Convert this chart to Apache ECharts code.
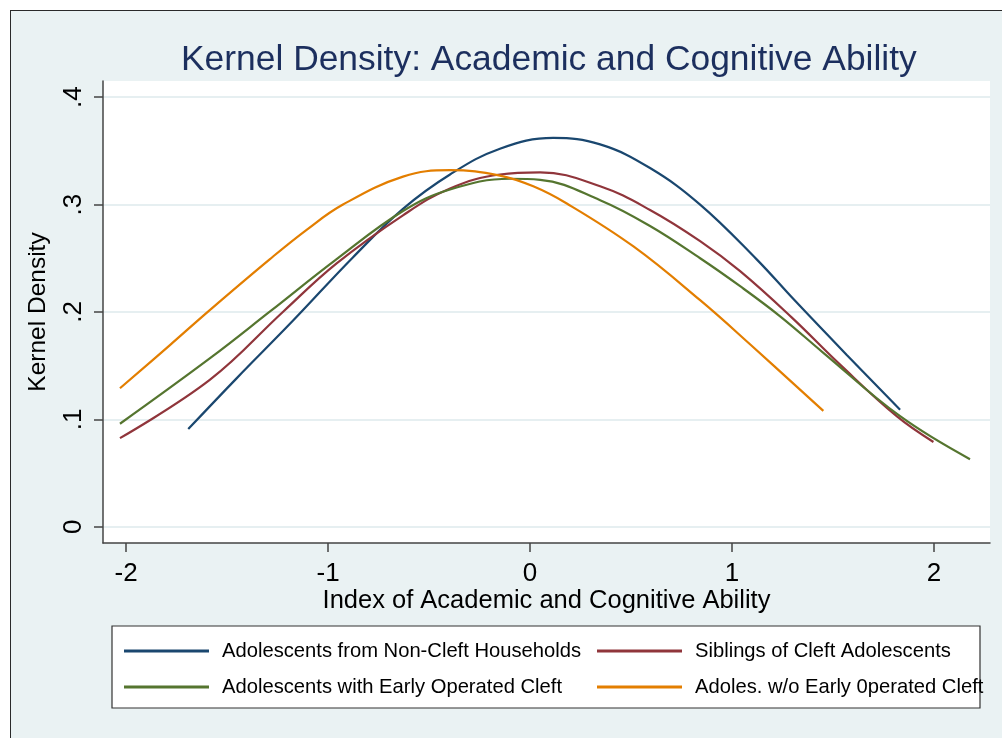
<!DOCTYPE html>
<html>
<head>
<meta charset="utf-8">
<script src="https://cdn.jsdelivr.net/npm/echarts@6/dist/echarts.min.js"></script>
<style>
html, body { margin: 0; padding: 0; background: #fff; }
#frame { position: absolute; left: 10px; top: 10px; width: 1010px; height: 760px;
  background: #eaf2f3; border: 1.5px solid #2a2a2a; }
#chart { position: absolute; left: 0; top: 0; width: 1002px; height: 738px; }
</style>
</head>
<body>
<div id="frame"></div>
<div id="chart"></div>
<script>
// series names (legend text kept as in the original, incl. "0perated")
var names = ['Adolescents from Non-Cleft Households', 'Siblings of Cleft Adolescents',
             'Adolescents with Early Operated Cleft', 'Adoles. w/o Early 0perated Cleft'];
var colors = ['#1a476f', '#90353b', '#55752f', '#e37e00'];

var xTicks = [-2, -1, 0, 1, 2];
var yTicks = [0, 0.1, 0.2, 0.3, 0.4];

// kernel density curves
var nonCleftX = [-1.692, -1.454, -1.173, -0.876, -0.629, -0.396, -0.149, 0.115, 0.347, 0.594, 0.842, 1.122, 1.304, 1.568, 1.832];
var nonCleftY = [0.091, 0.138, 0.192, 0.251, 0.296, 0.328, 0.352, 0.362, 0.356, 0.334, 0.300, 0.249, 0.212, 0.160, 0.109];

var siblingsX = [-2.030, -1.584, -1.221, -0.959, -0.629, -0.396, -0.149, 0.050, 0.347, 0.594, 0.842, 1.040, 1.295, 1.535, 1.815, 1.997];
var siblingsY = [0.0826, 0.137, 0.2005, 0.245, 0.290, 0.315, 0.328, 0.330, 0.317, 0.295, 0.266, 0.238, 0.195, 0.151, 0.103, 0.079];

var earlyX = [-2.030, -1.584, -1.287, -0.959, -0.629, -0.396, -0.099, 0.050, 0.347, 0.594, 0.842, 1.040, 1.238, 1.452, 1.832, 2.178];
var earlyY = [0.096, 0.157, 0.2005, 0.249, 0.294, 0.314, 0.324, 0.323, 0.304, 0.280, 0.250, 0.224, 0.196, 0.162, 0.103, 0.063];

var lateX = [-2.030, -1.784, -1.584, -1.289, -1.106, -0.926, -0.629, -0.396, -0.149, 0.016, 0.182, 0.512, 0.842, 1.089, 1.452];
var lateY = [0.129, 0.169, 0.202, 0.249, 0.2765, 0.300, 0.326, 0.332, 0.327, 0.317, 0.301, 0.261, 0.211, 0.170, 0.108];

function pairs(xs, ys) {
  return xs.map(function (x, i) { return [x, ys[i]]; });
}
var curves = [pairs(nonCleftX, nonCleftY), pairs(siblingsX, siblingsY),
              pairs(earlyX, earlyY), pairs(lateX, lateY)];

var font = 'Liberation Sans, Arial, sans-serif';
var axisColor = '#444';

var chart = echarts.init(document.getElementById('chart'));

var legendBase = {
  orient: 'vertical',
  top: 635,
  icon: 'rect',
  itemWidth: 85,
  itemHeight: 3,
  itemGap: 14,
  selectedMode: false,
  textStyle: { fontSize: 20.2, lineHeight: 22, fontFamily: font, color: '#000', padding: [0, 0, 0, 8] }
};

var option = {
  animation: false,
  color: colors,
  title: {
    text: 'Kernel Density: Academic and Cognitive Ability',
    left: 176,
    top: 38,
    textStyle: { fontSize: 35.4, fontWeight: 'normal', fontFamily: font, color: '#1c2f5e' }
  },
  legend: [
    Object.assign({}, legendBase, { left: 119, data: [names[0], names[2]] }),
    Object.assign({}, legendBase, { left: 592, data: [names[1], names[3]] })
  ],
  graphic: [{
    type: 'rect', z: 1,
    shape: { x: 112, y: 626, width: 868, height: 82 },
    style: { fill: '#fff', stroke: '#333', lineWidth: 1.2 }
  }],
  grid: {
    left: 103, top: 81, right: 12, bottom: 195,
    show: true, backgroundColor: '#fff', borderWidth: 0
  },
  xAxis: {
    type: 'value',
    min: -2.114, max: 2.277,
    name: 'Index of Academic and Cognitive Ability',
    nameLocation: 'middle',
    nameGap: 45,
    nameMoveOverlap: false,
    nameTextStyle: { fontSize: 25.5, fontFamily: font, color: '#000' },
    axisLine: { show: true, onZero: false, lineStyle: { color: axisColor, width: 1.5 } },
    axisTick: { show: true, length: 9, customValues: xTicks, lineStyle: { color: axisColor, width: 1.5 } },
    axisLabel: { customValues: xTicks, fontSize: 26, fontFamily: font, color: '#000', margin: 18 },
    splitLine: { show: false }
  },
  yAxis: {
    type: 'value',
    min: -0.015, max: 0.415,
    name: 'Kernel Density',
    nameLocation: 'middle',
    nameGap: 52,
    nameTextStyle: { fontSize: 24.5, fontFamily: font, color: '#000' },
    axisLine: { show: true, onZero: false, lineStyle: { color: axisColor, width: 1.5 } },
    axisTick: { show: true, length: 9, customValues: yTicks, lineStyle: { color: axisColor, width: 1.5 } },
    axisLabel: {
      customValues: yTicks, rotate: 90, fontSize: 26, fontFamily: font, color: '#000', margin: 16,
      formatter: function (v) { return v === 0 ? '0' : '.' + Math.round(v * 10); }
    },
    splitLine: { show: true, lineStyle: { color: '#e6eff1', width: 2 } }
  },
  series: curves.map(function (d, i) {
    return {
      name: names[i],
      type: 'line',
      data: d,
      smooth: 0.4,
      showSymbol: false,
      symbol: 'none',
      lineStyle: { width: 2.2, color: colors[i] },
      itemStyle: { color: colors[i] }
    };
  })
};

chart.setOption(option);
</script>
</body>
</html>
